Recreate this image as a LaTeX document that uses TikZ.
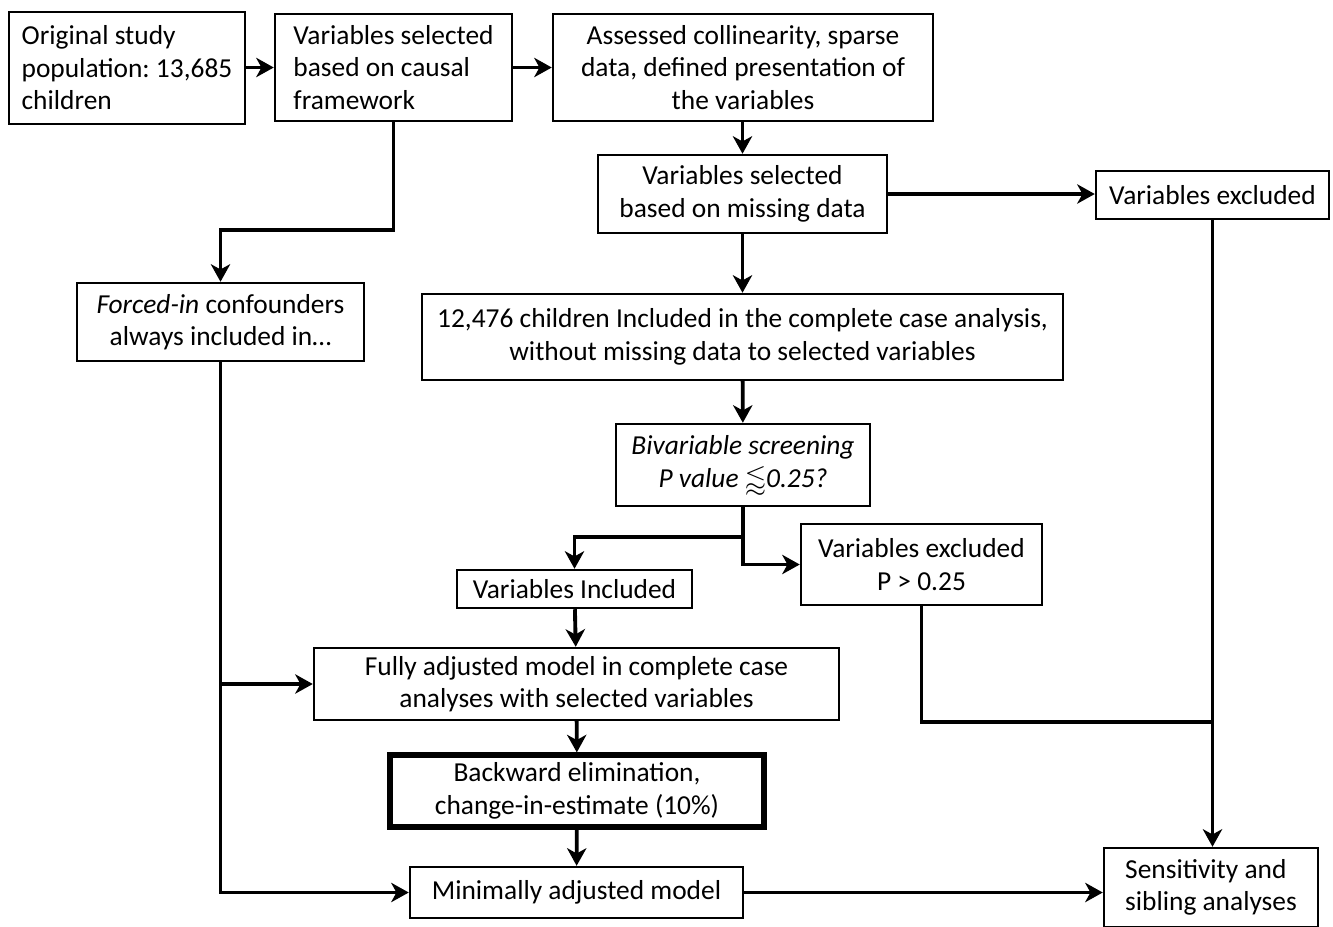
\documentclass[tikz,border=0pt]{standalone}
\usepackage{amssymb}
\usepackage{fontspec}
\setmainfont{Carlito}
\usetikzlibrary{arrows.meta}
\tikzset{
  box/.style={draw,line width=1.4pt,inner sep=0pt,align=center,font=\fontsize{15.6}{18.5}\selectfont\frenchspacing},
  lbox/.style={box,align=left},
  arr/.style={line width=2.2pt,-{Stealth[length=10pt,width=11pt,inset=3pt]}},
  ln/.style={line width=2.2pt}
}
\begin{document}
\begin{tikzpicture}[x=0.02cm,y=-0.02cm]
\useasboundingbox (0,0) rectangle (1333,927);
\begin{scope}[every node/.style={box}]
\node[lbox,minimum width=236*0.02cm,minimum height=112*0.02cm] (orig) at (127,68) {Original study\\population: 13,685\\children};
\node[lbox,minimum width=237*0.02cm,minimum height=107*0.02cm] (causal) at (393.5,67.5) {Variables selected\\based on causal\\framework};
\node[minimum width=380*0.02cm,minimum height=107*0.02cm] (assess) at (743,67.5) {Assessed collinearity, sparse\\data, defined presentation of\\the variables};
\node[minimum width=289*0.02cm,minimum height=78*0.02cm] (missing) at (742.5,194) {Variables selected\\based on missing data};
\node[minimum width=233*0.02cm,minimum height=48*0.02cm] (excl) at (1212.5,195) {Variables excluded};
\node[minimum width=287*0.02cm,minimum height=78*0.02cm] (forced) at (220.5,322) {\textit{Forced-in} confounders\\always included in\ldots};
\node[minimum width=641*0.02cm,minimum height=86*0.02cm] (complete) at (742.5,337) {12,476 children Included in the complete case analysis,\\without missing data to selected variables};
\node[minimum width=254*0.02cm,minimum height=82*0.02cm,font=\fontsize{15.6}{18.5}\selectfont\itshape] (screen) at (743,465) {Bivariable screening\\P value $\lessapprox$0.25?};
\node[minimum width=241*0.02cm,minimum height=81*0.02cm] (exclp) at (921.5,564.5) {Variables excluded\\P > 0.25};
\node[minimum width=235*0.02cm,minimum height=38*0.02cm] (incl) at (574.5,589) {Variables Included};
\node[minimum width=525*0.02cm,minimum height=72*0.02cm] (full) at (576.5,684) {Fully adjusted model in complete case\\analyses with selected variables};
\node[line width=3pt,minimum width=374*0.02cm,minimum height=72*0.02cm] (backward) at (577,791) {Backward elimination,\\change-in-estimate (10\%)};
\node[minimum width=333*0.02cm,minimum height=51*0.02cm] (minimal) at (576.5,892.5) {Minimally adjusted model};
\node[lbox,minimum width=214*0.02cm,minimum height=79*0.02cm] (sens) at (1211,887.5) {Sensitivity and\\sibling analyses};
\end{scope}

\coordinate (split1) at (393.5,230);
\coordinate (split2) at (743,537);
\coordinate (join1) at (1212.5,722);

\draw[arr] (orig.east |- causal.west) -- (causal.west);
\draw[arr] (causal) -- (assess);
\draw[arr] (assess.south -| missing.north) -- (missing);
\draw[arr] (missing.east) -- (missing.east -| excl.west);
\draw[arr] (missing) -- (complete);
\draw[arr] (complete) -- (screen);
\draw[arr] (causal.south) -- (split1) -| (forced.north);
\draw[ln] (screen.south) -- (split2);
\draw[arr] (split2) -| (incl.north);
\draw[arr] (split2) |- (exclp.west);
\draw[arr] (incl) -- (full);
\draw[arr] (full) -- (backward);
\draw[arr] (backward) -- (minimal);
\draw[arr] (forced.south) |- (minimal.west);
\draw[arr] (forced.south |- full.west) -- (full.west);
\draw[arr] (minimal.east) -- (minimal.east -| sens.west);
\draw[arr] (excl.south) -- (excl.south |- sens.north);
\draw[ln] (exclp.south) |- (join1);
\end{tikzpicture}
\end{document}
